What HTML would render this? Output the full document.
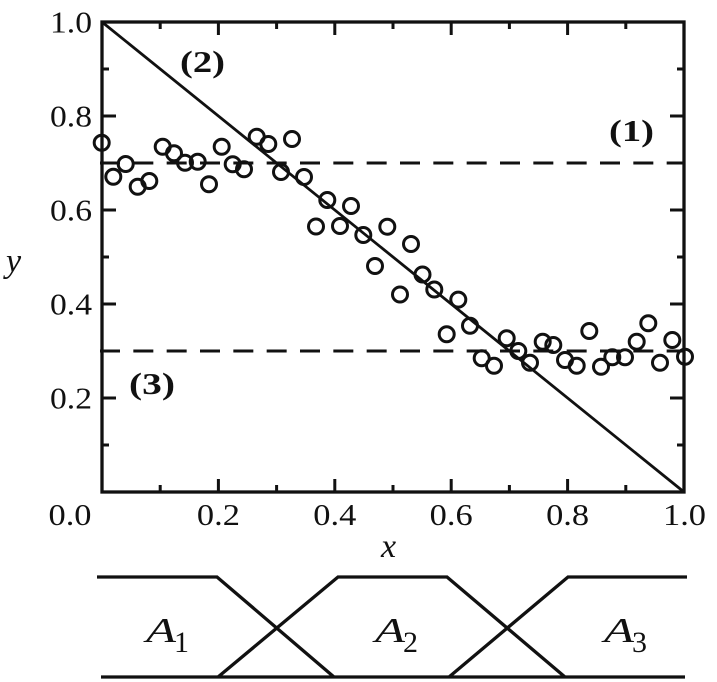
<!DOCTYPE html>
<html>
<head>
<meta charset="utf-8">
<style>
html,body{margin:0;padding:0;background:#fff;}
svg{display:block;}
svg text{font-family:"Liberation Serif","Noto Serif CJK SC","Times New Roman",serif;fill:#111;}
</style>
</head>
<body>
<svg width="717" height="682" viewBox="0 0 717 682" xmlns="http://www.w3.org/2000/svg">
<defs>
<marker id="o" markerUnits="userSpaceOnUse" markerWidth="22" markerHeight="22" refX="11" refY="11" viewBox="0 0 22 22" overflow="visible">
<circle cx="11" cy="11" r="7.5" fill="none" stroke="#111" stroke-width="3"/>
</marker>
</defs>
<g stroke="#111" fill="none">
<path stroke-width="3" stroke-dasharray="20 13.333" d="M100 163H684M100 351H684"/>
<path stroke-width="2.8" d="M102 22L684 492"/>
<rect x="102" y="22" width="582" height="470" stroke-width="3.3"/>
<path stroke-width="3" d="M102 398h14M102 304h14M102 210h14M102 116h14M102 445h7M102 351h7M102 257h7M102 163h7M102 69h7M684 398h-14M684 304h-14M684 210h-14M684 116h-14M684 445h-7M684 351h-7M684 257h-7M684 163h-7M684 69h-7M218.4 492v-13M334.8 492v-13M451.2 492v-13M567.6 492v-13M160.2 492v-7M276.6 492v-7M393 492v-7M509.4 492v-7M625.8 492v-7M218.4 22v13M334.8 22v13M451.2 22v13M567.6 22v13M160.2 22v7M276.6 22v7M393 22v7M509.4 22v7M625.8 22v7"/>
<path stroke-width="3.3" d="M101 677H685M97 577H217L334 677M218 677L338 577H447L565 677M449 677L568 577H687"/>
</g>
<polyline fill="none" stroke="none" marker-start="url(#o)" marker-mid="url(#o)" marker-end="url(#o)" points="101.7,142.7 113.3,176.7 125.7,164 137.7,186.7 149.3,181 162.7,146.7 174,153.3 185,162.7 197.7,161.7 209,184.3 221.7,146.7 232.7,164.3 244,169.3 256.7,136.7 268.3,144 281,172 292,139 304,177 316,226.5 327.3,200 340,226 351,206 363.3,235 375,266 387.3,226.7 400,294.5 411,244 422.5,274.5 434.3,289.5 446.7,334.3 458.3,299.6 470,325.7 481.7,358.3 494,365.7 506.7,338.3 518.3,351 530,362.7 542.7,341.7 553.3,345 565,360 576.7,365.7 589.3,331 601,366.7 612.3,357.3 625,357.3 636.7,341.7 648.3,323.3 660,362.7 672.3,340 685,356.7"/>
<g font-size="31" text-anchor="end">
<text x="92" y="32.5" textLength="42" lengthAdjust="spacingAndGlyphs">1.0</text>
<text x="92" y="126.5" textLength="42" lengthAdjust="spacingAndGlyphs">0.8</text>
<text x="92" y="220.5" textLength="42" lengthAdjust="spacingAndGlyphs">0.6</text>
<text x="92" y="314.5" textLength="42" lengthAdjust="spacingAndGlyphs">0.4</text>
<text x="92" y="408.5" textLength="42" lengthAdjust="spacingAndGlyphs">0.2</text>
</g>
<g font-size="31">
<text x="48.5" y="525" textLength="43" lengthAdjust="spacingAndGlyphs">0.0</text>
<text x="196.9" y="525" textLength="43" lengthAdjust="spacingAndGlyphs">0.2</text>
<text x="313.3" y="525" textLength="43" lengthAdjust="spacingAndGlyphs">0.4</text>
<text x="429.7" y="525" textLength="43" lengthAdjust="spacingAndGlyphs">0.6</text>
<text x="546.1" y="525" textLength="43" lengthAdjust="spacingAndGlyphs">0.8</text>
<text x="663" y="525" textLength="43" lengthAdjust="spacingAndGlyphs">1.0</text>
</g>
<g font-style="italic" font-size="34">
<text x="6" y="272">y</text>
<text x="381" y="557">x</text>
</g>
<g font-size="31" font-weight="bold">
<text x="180" y="72" textLength="45" lengthAdjust="spacingAndGlyphs">(2)</text>
<text x="609" y="141" textLength="45" lengthAdjust="spacingAndGlyphs">(1)</text>
<text x="129" y="394" textLength="46" lengthAdjust="spacingAndGlyphs">(3)</text>
</g>
<g font-style="italic" font-size="35">
<text x="146" y="642" textLength="30" lengthAdjust="spacingAndGlyphs">A</text>
<text x="375" y="642" textLength="30" lengthAdjust="spacingAndGlyphs">A</text>
<text x="604" y="642" textLength="30" lengthAdjust="spacingAndGlyphs">A</text>
</g>
<g font-size="30">
<text x="174" y="652">1</text>
<text x="403" y="652">2</text>
<text x="632" y="652">3</text>
</g>
</svg>
</body>
</html>
